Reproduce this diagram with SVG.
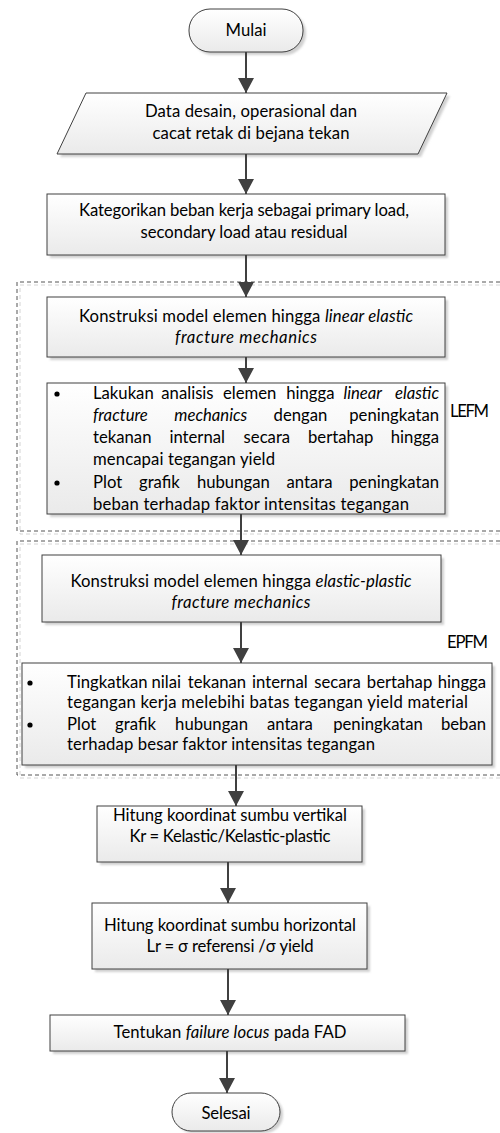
<svg xmlns="http://www.w3.org/2000/svg" width="500" height="1133" viewBox="0 0 500 1133">
<defs>
<linearGradient id="g" x1="0" y1="0" x2="0" y2="1"><stop offset="0" stop-color="#ffffff"/><stop offset="1" stop-color="#eaeaea"/></linearGradient>
<marker id="ah" markerUnits="userSpaceOnUse" markerWidth="16" markerHeight="16" refX="15" refY="8" orient="auto"><path d="M0,0 L15,8 L0,16 z" fill="#404040"/></marker>
<filter id="blur" x="-5%" y="-5%" width="110%" height="110%"><feGaussianBlur stdDeviation="1"/></filter>
</defs>
<style>
.box{fill:url(#g);stroke:#404040;stroke-width:1}
.sh{fill:#d0d0d0;filter:url(#blur)}
.t{font-family:Lato,'Open Sans',sans-serif;font-size:16.7px;fill:#000}
.c{text-anchor:middle}
.r{text-anchor:end}
.i{font-style:italic}
.e{stroke:#404040;stroke-width:2;fill:none;marker-end:url(#ah)}
.d{fill:none;stroke:#555;stroke-width:1;stroke-dasharray:4 3}
.ds{fill:none;stroke:#d4d4d4;stroke-width:1;stroke-dasharray:4 3}
.b{fill:#000}
</style>
<rect width="500" height="1133" fill="#fff"/>

<g id="group-lefm">
<path class="ds" d="M500,285 L20,285 L20,534 L500,534"/>
<path class="d" d="M500,282 L17,282 L17,531 L500,531"/>
<text class="t" x="450" y="417" textLength="39">LEFM</text>
</g>
<g id="group-epfm">
<path class="ds" d="M500,544 L20,544 L20,778 L500,778"/>
<path class="d" d="M500,541 L17,541 L17,775 L500,775"/>
<text class="t" x="447" y="648" textLength="41">EPFM</text>
</g>

<g id="mulai">
<rect class="sh" x="192" y="12" width="114" height="43" rx="21"/>
<rect class="box" x="189" y="9" width="114" height="43" rx="21"/>
<text class="t c" x="246" y="36" textLength="41">Mulai</text>
</g>

<g id="data">
<polygon class="sh" points="89,96 450,96 421,157 60,157"/>
<polygon class="box" points="86,93 447,93 418,154 57,154"/>
<text class="t c" x="251" y="117" textLength="212">Data desain, operasional dan</text>
<text class="t c" x="251" y="139" textLength="197">cacat retak di bejana tekan</text>
</g>

<g id="kategori">
<rect class="sh" x="50" y="197" width="398" height="61"/>
<rect class="box" x="47" y="194" width="398" height="61"/>
<text class="t c" x="244" y="216" textLength="330">Kategorikan beban kerja sebagai primary load,</text>
<text class="t c" x="244" y="238" textLength="207">secondary load atau residual</text>
</g>

<g id="konstruksi-lefm">
<rect class="sh" x="50" y="300" width="398" height="60"/>
<rect class="box" x="47" y="297" width="398" height="60"/>
<text class="t c" x="246" y="322" textLength="334">Konstruksi model elemen hingga <tspan class="i">linear elastic</tspan></text>
<text class="t c i" x="246" y="343" textLength="142">fracture mechanics</text>
</g>

<g id="analisis-lefm">
<rect class="sh" x="50" y="386" width="398" height="131"/>
<rect class="box" x="47" y="383" width="398" height="131"/>
<circle class="b" cx="57" cy="394" r="2.6"/>
<circle class="b" cx="57" cy="483" r="2.6"/>
<text class="t" y="399"><tspan x="93">Lakukan</tspan><tspan x="161.3">analisis</tspan><tspan x="222.9">elemen</tspan><tspan x="286.2">hingga</tspan><tspan class="i" x="343.4">linear</tspan></text>
<text class="t r i" x="439" y="399">elastic</text>
<text class="t" y="421"><tspan class="i" x="93">fracture</tspan><tspan class="i" x="174.3">mechanics</tspan><tspan x="273.6">dengan</tspan></text>
<text class="t r" x="439" y="421">peningkatan</text>
<text class="t" y="443"><tspan x="93">tekanan</tspan><tspan x="169.4">internal</tspan><tspan x="243.6">secara</tspan><tspan x="308">bertahap</tspan></text>
<text class="t r" x="439" y="443">hingga</text>
<text class="t" x="93" y="465" textLength="182">mencapai tegangan yield</text>
<text class="t" y="488"><tspan x="93">Plot</tspan><tspan x="139">grafik</tspan><tspan x="196.9">hubungan</tspan><tspan x="286.5">antara</tspan></text>
<text class="t r" x="439" y="488">peningkatan</text>
<text class="t" x="93" y="510" textLength="316">beban terhadap  faktor intensitas tegangan</text>
</g>

<g id="konstruksi-epfm">
<rect class="sh" x="45" y="558" width="399" height="67"/>
<rect class="box" x="42" y="555" width="399" height="67"/>
<text class="t c" x="241" y="587" textLength="341">Konstruksi model elemen hingga <tspan class="i">elastic-plastic</tspan></text>
<text class="t c i" x="241" y="608" textLength="139">fracture mechanics</text>
</g>

<g id="analisis-epfm">
<rect class="sh" x="25" y="666" width="470" height="102"/>
<rect class="box" x="22" y="663" width="470" height="102"/>
<circle class="b" cx="30" cy="683" r="2.6"/>
<circle class="b" cx="30" cy="725" r="2.6"/>
<text class="t" y="688"><tspan x="67">Tingkatkan</tspan><tspan x="151.4">nilai</tspan><tspan x="187.7">tekanan</tspan><tspan x="252.1">internal</tspan><tspan x="314.3">secara</tspan><tspan x="366.8">bertahap</tspan></text>
<text class="t r" x="486" y="688">hingga</text>
<text class="t" x="67" y="708" textLength="401">tegangan kerja melebihi  batas tegangan yield material</text>
<text class="t" y="730"><tspan x="67">Plot</tspan><tspan x="115.1">grafik</tspan><tspan x="175.1">hubungan</tspan><tspan x="266.9">antara</tspan><tspan x="333.2">peningkatan</tspan></text>
<text class="t r" x="486" y="730">beban</text>
<text class="t" x="67" y="750" textLength="308">terhadap besar faktor intensitas tegangan</text>
</g>

<g id="kr">
<rect class="sh" x="100" y="809" width="265" height="56"/>
<rect class="box" x="97" y="806" width="265" height="56"/>
<text class="t c" x="230" y="821" textLength="234">Hitung koordinat sumbu vertikal</text>
<text class="t c" x="230" y="842" textLength="201">Kr = Kelastic/Kelastic-plastic</text>
</g>

<g id="lr">
<rect class="sh" x="95" y="906" width="275" height="66"/>
<rect class="box" x="92" y="903" width="275" height="66"/>
<text class="t c" x="230" y="931" textLength="252">Hitung koordinat sumbu horizontal</text>
<text class="t c" x="230" y="952" textLength="167">Lr = σ referensi /σ yield</text>
</g>

<g id="failure">
<rect class="sh" x="53" y="1018" width="355" height="36"/>
<rect class="box" x="50" y="1015" width="355" height="36"/>
<text class="t c" x="230" y="1038" textLength="233">Tentukan <tspan class="i">failure locus</tspan> pada FAD</text>
</g>

<g id="selesai">
<rect class="sh" x="175" y="1096" width="108" height="37" rx="18"/>
<rect class="box" x="172" y="1093" width="108" height="38" rx="19"/>
<text class="t c" x="226" y="1119" textLength="49">Selesai</text>
</g>

<g id="connectors">
<line class="e" x1="246" y1="52" x2="246" y2="93"/>
<line class="e" x1="246" y1="154" x2="246" y2="194"/>
<line class="e" x1="246" y1="255" x2="246" y2="297"/>
<line class="e" x1="246" y1="357" x2="246" y2="383"/>
<line class="e" x1="241" y1="514" x2="241" y2="555"/>
<line class="e" x1="241" y1="622" x2="241" y2="663"/>
<line class="e" x1="236" y1="765" x2="236" y2="806"/>
<line class="e" x1="228" y1="862" x2="228" y2="903"/>
<line class="e" x1="228" y1="969" x2="228" y2="1015"/>
<line class="e" x1="227" y1="1051" x2="227" y2="1093"/>
</g>
</svg>
